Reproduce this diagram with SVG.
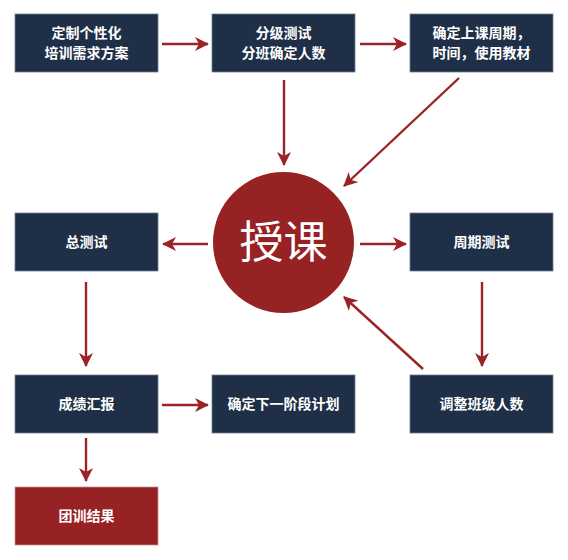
<svg xmlns="http://www.w3.org/2000/svg" width="568" height="560" viewBox="0 0 568 560">
<defs>
<style>
.box{fill:#1f2f47;stroke:#6d7d92;stroke-width:0.8}
.red{fill:#962224;stroke:#c98a8a;stroke-width:0.8}
.t{font-family:"Noto Sans CJK SC","Noto Sans",sans-serif;font-size:14px;font-weight:bold;fill:#ffffff;text-anchor:middle}
.c{stroke:#9b2327;stroke-width:2.4;fill:none;marker-end:url(#ah)}
</style>
<marker id="ah" markerUnits="userSpaceOnUse" markerWidth="16" markerHeight="14" refX="13" refY="7" orient="auto">
<path d="M0,0 L14,7 L0,14 L4,7 Z" fill="#9b2327"/>
</marker>
</defs>
<rect width="568" height="560" fill="#ffffff"/>
<g id="connectors">
<line class="c" x1="162" y1="44" x2="208" y2="44"/>
<line class="c" x1="360" y1="44" x2="406" y2="44"/>
<line class="c" x1="284" y1="80" x2="284" y2="165"/>
<line class="c" x1="459" y1="78" x2="344" y2="186"/>
<line class="c" x1="208" y1="244" x2="163" y2="244"/>
<line class="c" x1="360" y1="244" x2="406" y2="244"/>
<line class="c" x1="86" y1="282" x2="86" y2="366"/>
<line class="c" x1="482" y1="282" x2="482" y2="366"/>
<line class="c" x1="423" y1="369" x2="344" y2="297"/>
<line class="c" x1="162" y1="405" x2="208" y2="405"/>
<line class="c" x1="86" y1="438" x2="86" y2="481"/>
</g>
<g id="n1"><rect class="box" x="15" y="14" width="143" height="58"/><text class="t" x="86.5" y="38">定制个性化</text><text class="t" x="86.5" y="58">培训需求方案</text></g>
<g id="n2"><rect class="box" x="212" y="14" width="143" height="58"/><text class="t" x="283.5" y="38">分级测试</text><text class="t" x="283.5" y="58">分班确定人数</text></g>
<g id="n3"><rect class="box" x="410" y="14" width="143" height="58"/><text class="t" x="481.5" y="38">确定上课周期，</text><text class="t" x="481.5" y="58">时间，使用教材</text></g>
<g id="center"><circle cx="283.5" cy="242.5" r="70.5" fill="#962224"/><text x="283.5" y="258" font-family="'Noto Sans CJK SC',sans-serif" font-size="44" fill="#ffffff" text-anchor="middle">授课</text></g>
<g id="n4"><rect class="box" x="15" y="213" width="143" height="58"/><text class="t" x="86.5" y="247">总测试</text></g>
<g id="n5"><rect class="box" x="410" y="213" width="143" height="58"/><text class="t" x="481.5" y="247">周期测试</text></g>
<g id="n6"><rect class="box" x="15" y="375" width="143" height="58"/><text class="t" x="86.5" y="409">成绩汇报</text></g>
<g id="n7"><rect class="box" x="212" y="375" width="143" height="58"/><text class="t" x="283.5" y="409">确定下一阶段计划</text></g>
<g id="n8"><rect class="box" x="410" y="375" width="143" height="58"/><text class="t" x="481.5" y="409">调整班级人数</text></g>
<g id="n9"><rect class="red" x="15" y="487" width="143" height="58"/><text class="t" x="86.5" y="521">团训结果</text></g>
</svg>
